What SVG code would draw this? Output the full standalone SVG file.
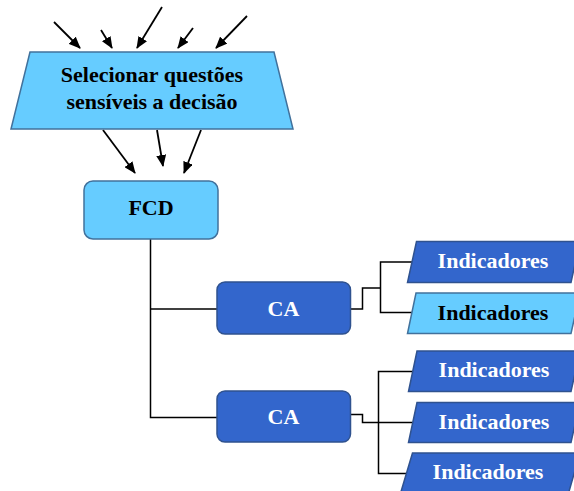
<svg xmlns="http://www.w3.org/2000/svg" width="574" height="491" viewBox="0 0 574 491">
<style>
.light{fill:#66CCFF;stroke:#41719C;stroke-width:1.5}
.dark{fill:#3366CC;stroke:#2F528F;stroke-width:1.5}
.t{font-family:"Liberation Serif","Times New Roman",serif;font-weight:bold;font-size:22px;text-anchor:middle}
.tb{fill:#000}
.tw{fill:#fff}
.ln{fill:none;stroke:#000;stroke-width:1.5}
.ar{fill:none;stroke:#000;stroke-width:1.8;marker-end:url(#ah)}
</style>
<defs>
<marker id="ah" viewBox="0 0 12 10" refX="11" refY="5" markerWidth="12" markerHeight="10" markerUnits="userSpaceOnUse" orient="auto">
<path d="M0,0 L12,5 L0,10 z" fill="#000"/>
</marker>
</defs>
<rect width="574" height="491" fill="#fff"/>
<g id="connectors">
<line class="ar" x1="54" y1="22" x2="80" y2="48"/>
<line class="ar" x1="101" y1="30" x2="112" y2="48"/>
<line class="ar" x1="162" y1="7" x2="137" y2="48"/>
<line class="ar" x1="193" y1="28" x2="178" y2="48"/>
<line class="ar" x1="247" y1="16" x2="216" y2="48"/>
<line class="ar" x1="103" y1="130" x2="135" y2="173"/>
<line class="ar" x1="157" y1="130" x2="163" y2="166"/>
<line class="ar" x1="201" y1="130" x2="184" y2="173"/>
<polyline class="ln" points="150.5,239 150.5,417.5 217,417.5"/>
<line class="ln" x1="150.5" y1="309" x2="217" y2="309"/>
<polyline class="ln" points="350.5,309 362.5,309 362.5,288 380.5,288"/>
<polyline class="ln" points="412.5,262 380.5,262 380.5,312.5 412.5,312.5"/>
<polyline class="ln" points="350.5,414.5 362.5,414.5 362.5,422.5 412.5,422.5"/>
<polyline class="ln" points="412.5,371.5 378.5,371.5 378.5,473.5 407,473.5"/>
</g>
<g id="select">
<polygon class="light" points="30,52 274,52 293,129 11,129"/>
<text class="t tb" x="152" y="82">Selecionar questões</text>
<text class="t tb" x="152" y="108.5">sensíveis a decisão</text>
</g>
<g id="fcd">
<rect class="light" x="84" y="181" width="134" height="58" rx="9"/>
<text class="t tb" x="151" y="215">FCD</text>
</g>
<g id="ca1">
<rect class="dark" x="217" y="282" width="133.5" height="52" rx="8"/>
<text class="t tw" x="283.5" y="316">CA</text>
</g>
<g id="ca2">
<rect class="dark" x="217" y="391" width="133.5" height="51" rx="8"/>
<text class="t tw" x="283.5" y="424">CA</text>
</g>
<g id="ind1">
<polygon class="dark" points="416.5,241.5 580,241.5 571,282.5 407.5,282.5"/>
<text class="t tw" x="493" y="267.5">Indicadores</text>
</g>
<g id="ind2">
<polygon class="light" points="416,293 580,293 571,333.5 407.5,333.5"/>
<text class="t tb" x="493" y="319.5">Indicadores</text>
</g>
<g id="ind3">
<polygon class="dark" points="417,351 580,351 571,391.5 408.5,391.5"/>
<text class="t tw" x="494" y="377">Indicadores</text>
</g>
<g id="ind4">
<polygon class="dark" points="417,402.5 580,402.5 571,442.5 408.5,442.5"/>
<text class="t tw" x="494" y="429">Indicadores</text>
</g>
<g id="ind5">
<polygon class="dark" points="412.5,453 580,453 568,495 400,495"/>
<text class="t tw" x="488" y="478.5">Indicadores</text>
</g>
</svg>
